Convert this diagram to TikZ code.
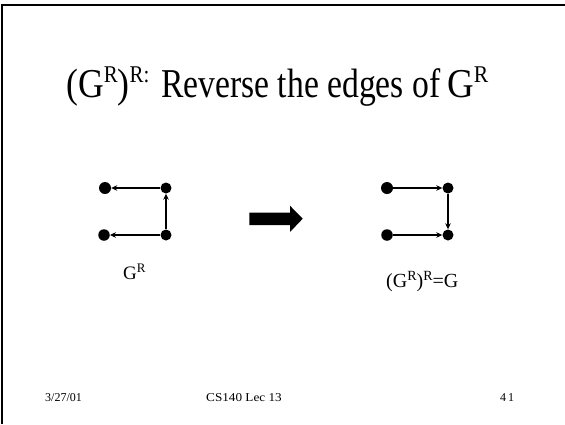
\documentclass[tikz,border=0pt]{standalone}
\usepackage{fontspec}
\setmainfont{Liberation Serif}
\usetikzlibrary{arrows.meta}
\newcommand{\myup}[3]{\raisebox{#2}{\fontsize{#1}{#1}\selectfont #3}}
\begin{document}
\begin{tikzpicture}[x=1pt,y=-1pt,
  dot/.style={circle,fill=black,inner sep=0pt,minimum size=11pt},
  edge/.style={line width=2.2pt,-{Stealth[length=6pt,width=5.5pt]}},
  txt/.style={inner sep=0pt,anchor=base west}]
\useasboundingbox (0,0) rectangle (565,424);
% frame
\draw[line width=2.2pt] (2,424) -- (2,5) -- (565,5);
% title
\node[txt] (title1) at (66,97.5) {\scalebox{0.87}[1]{\fontsize{41}{41}\selectfont (G\myup{24}{15pt}{R})\myup{24}{15pt}{R:}}};
\node[txt] (title2) at (161,97.5) {\scalebox{0.82}[1]{\fontsize{41}{41}\selectfont Reverse the edges of}};
\node[txt] (title3) at (447,97.5) {\scalebox{0.9}[1]{\fontsize{41}{41}\selectfont G\myup{24}{15pt}{R}}};
% left graph
\node[dot,minimum size=12pt] (a1) at (105,188) {};
\node[dot] (a2) at (166,188) {};
\node[dot,minimum size=11.5pt] (a3) at (104,235) {};
\node[dot] (a4) at (166,235) {};
\draw[edge] (a2) -- (a1);
\draw[edge] (a4) -- (a3);
\draw[edge] (a4) -- (a2);
% right graph
\node[dot,minimum size=12pt] (b1) at (387,188) {};
\node[dot] (b2) at (448,188) {};
\node[dot,minimum size=11.5pt] (b3) at (387,235) {};
\node[dot] (b4) at (448,235) {};
\draw[edge] (b1) -- (b2);
\draw[edge] (b3) -- (b4);
\draw[edge] (b2) -- (b4);
% big arrow
\fill (249.3,212.7) -- (290,212.7) -- (290,205.7) -- (302.7,218.7) -- (290,232) -- (290,225) -- (249.3,225) -- cycle;
% labels
\node[txt] (lab1) at (123,279) {\fontsize{19}{19}\selectfont G\myup{13}{6.5pt}{R}};
\node[txt] (lab2) at (386,287) {\fontsize{20}{20}\selectfont (G\myup{14}{7pt}{R})\myup{14}{7pt}{R}=G};
% footer
\node[txt] (date) at (45,401) {\fontsize{12}{12}\selectfont 3/27/01};
\node[inner sep=0pt,anchor=base] (course) at (244,401) {\scalebox{1.1}[1]{\fontsize{12}{12}\selectfont CS140 Lec 13}};
\node[txt] (page) at (500,401) {\fontsize{12}{12}\selectfont 4\,1};
\end{tikzpicture}
\end{document}
